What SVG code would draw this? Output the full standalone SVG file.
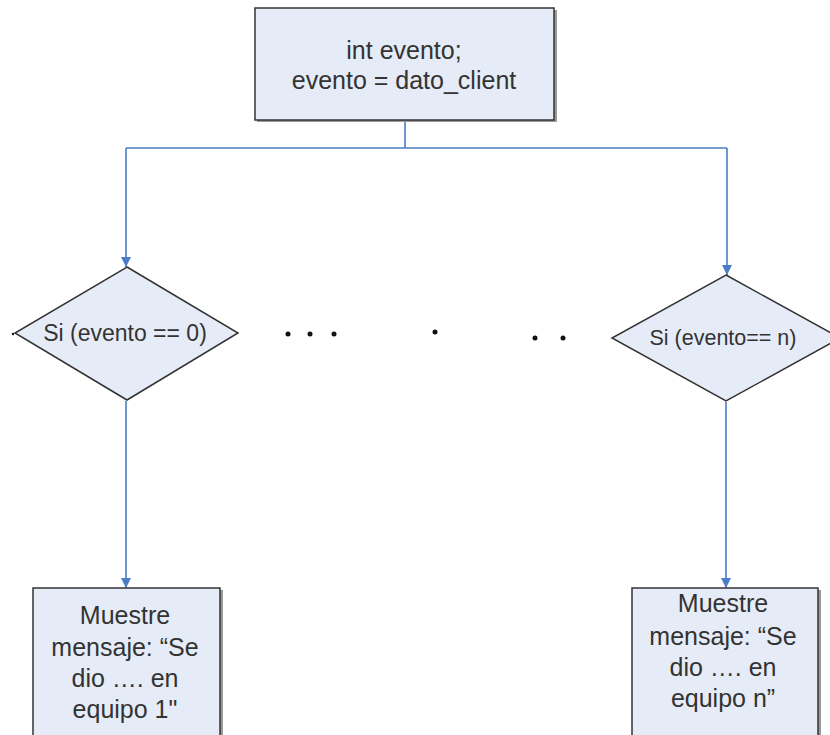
<svg xmlns="http://www.w3.org/2000/svg" width="830" height="735" viewBox="0 0 830 735">
  <defs>
    <marker id="arrow" viewBox="0 0 10 10" refX="10" refY="5" markerWidth="10" markerHeight="10" markerUnits="userSpaceOnUse" orient="auto">
      <path d="M0,0 L10,5 L0,10 Z" fill="#4a7cc6"/>
    </marker>
  </defs>
  <style>
    .shape { fill: #e6ecf7; stroke: #333; stroke-width: 1.5; }
    .shadow { fill: #9a9a9a; }
    .wire { fill: none; stroke: #4a7cc6; stroke-width: 1.6; }
    .label { font-family: "Liberation Sans", Arial, sans-serif; fill: #333; text-anchor: middle; dominant-baseline: central; }
    .dot { fill: #111; }
  </style>
  <rect width="830" height="735" fill="#fff"/>

  <!-- connectors -->
  <g id="connectors">
    <path class="wire" d="M405,121 V148"/>
    <path class="wire" d="M126,148 H727"/>
    <path class="wire" d="M126,148 V267" marker-end="url(#arrow)"/>
    <path class="wire" d="M727,148 V275" marker-end="url(#arrow)"/>
    <path class="wire" d="M126,401 V588" marker-end="url(#arrow)"/>
    <path class="wire" d="M726,402 V588" marker-end="url(#arrow)"/>
  </g>

  <!-- start block -->
  <g id="start">
    <rect class="shadow" x="257" y="10" width="300" height="112"/>
    <rect class="shape" x="255" y="8" width="299" height="112"/>
    <text class="label" x="404" y="50" font-size="25">int evento;</text>
    <text class="label" x="404" y="80" font-size="25">evento = dato_client</text>
  </g>

  <!-- first decision -->
  <g id="decision-0">
    <polygon class="shape" points="127,267 238,333 127,400 15,333"/>
    <circle class="dot" cx="13" cy="334" r="1.2"/>
    <text class="label" x="125" y="333" font-size="23">Si (evento == 0)</text>
  </g>

  <!-- last decision -->
  <g id="decision-n">
    <polygon class="shape" points="726,275 840,338 726,401 612,338"/>
    <text class="label" x="723" y="338" font-size="21.5">Si (evento== n)</text>
  </g>

  <!-- ellipsis between the branches -->
  <g id="ellipsis">
    <circle class="dot" cx="288" cy="334" r="2.5"/>
    <circle class="dot" cx="310" cy="334" r="2.5"/>
    <circle class="dot" cx="334" cy="334" r="2.5"/>
    <circle class="dot" cx="435" cy="332" r="2.5"/>
    <circle class="dot" cx="535" cy="338" r="2.5"/>
    <circle class="dot" cx="563" cy="338" r="2.5"/>
  </g>

  <!-- action for evento 1 -->
  <g id="action-1">
    <rect class="shadow" x="35" y="590" width="188" height="160"/>
    <rect class="shape" x="33" y="588" width="187" height="160"/>
    <text class="label" x="125" y="615" font-size="25">Muestre</text>
    <text class="label" x="125" y="647" font-size="25">mensaje: “Se</text>
    <text class="label" x="125" y="678" font-size="25">dio …. en</text>
    <text class="label" x="125" y="709" font-size="25">equipo 1"</text>
  </g>

  <!-- action for evento n -->
  <g id="action-n">
    <rect class="shadow" x="634" y="590" width="187" height="160"/>
    <rect class="shape" x="632" y="588" width="186" height="160"/>
    <text class="label" x="723" y="603" font-size="25">Muestre</text>
    <text class="label" x="723" y="636" font-size="25">mensaje: “Se</text>
    <text class="label" x="723" y="667" font-size="25">dio …. en</text>
    <text class="label" x="723" y="698" font-size="25">equipo n”</text>
  </g>
</svg>
